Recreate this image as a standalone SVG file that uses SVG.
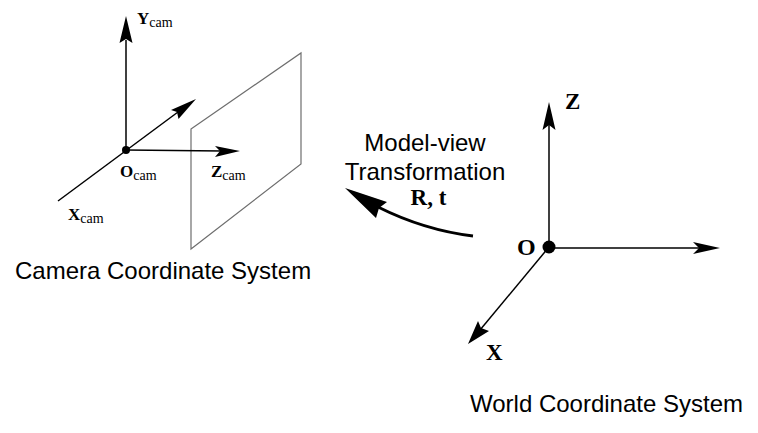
<svg xmlns="http://www.w3.org/2000/svg" width="758" height="433" viewBox="0 0 758 433">
<style>
.ax{fill:none;stroke:#000;stroke-width:1.5}
.hd{fill:#000;stroke:none}
.pl{fill:none;stroke:#6e6e6e;stroke-width:1.2}
.lb{font-family:"Liberation Sans",Arial,sans-serif;font-size:24px;fill:#000}
.m{font-family:"Liberation Serif","Times New Roman",serif;font-weight:bold;fill:#000}
.s{font-weight:normal}
</style>
<rect width="758" height="433" fill="#fff"/>
<g id="connectors">
<path class="pl" d="M191 129L301 53V164L191 249Z"/>
<path class="ax" d="M126 150V40"/>
<path class="hd" d="M126 16L132.500 43L126 39L119.500 43Z"/>
<path class="ax" d="M58 201L178 112"/>
<path class="hd" d="M196 99L178.500 119L177 112L171 110Z"/>
<path class="ax" d="M126 150L222 151"/>
<path class="hd" d="M240 151L215 157L220 151L215 146Z"/>
<path class="ax" d="M549 247V122"/>
<path class="hd" d="M549 102L555.500 130L549 125L542.500 130Z"/>
<path class="ax" d="M549 248H704"/>
<path class="hd" d="M720 248L693 254L699 248L693 242Z"/>
<path class="ax" d="M549 247L480 330"/>
<path class="hd" d="M468 344L478 321L481 328L489 331Z"/>
<path fill="none" stroke="#000" stroke-width="3" d="M473 236C440 232 408 222 378 207"/>
<path class="hd" d="M345 188L387 202L379 208L376 218Z"/>
</g>
<g id="camera-origin"><circle cx="126" cy="150" r="4"/>
<text class="m" x="120" y="177" font-size="17">O<tspan class="s" font-size="14" dy="3">cam</tspan></text></g>
<g id="y-cam"><text class="m" x="137" y="24" font-size="17">Y<tspan class="s" font-size="14" dy="3">cam</tspan></text></g>
<g id="x-cam"><text class="m" x="68" y="220" font-size="17">X<tspan class="s" font-size="14" dy="3">cam</tspan></text></g>
<g id="z-cam"><text class="m" x="211" y="177" font-size="17">Z<tspan class="s" font-size="14" dy="3">cam</tspan></text></g>
<g id="camera-label"><text class="lb" x="15" y="279">Camera Coordinate System</text></g>
<g id="transform-label">
<text class="lb" x="425" y="151" text-anchor="middle">Model-view</text>
<text class="lb" x="425" y="180" text-anchor="middle">Transformation</text>
<text class="m" x="428.500" y="205" font-size="23" text-anchor="middle">R, t</text></g>
<g id="world-origin"><circle cx="549" cy="247" r="6.500"/>
<text class="m" x="517" y="255" font-size="24">O</text></g>
<g id="z-world"><text class="m" x="565" y="109" font-size="23">Z</text></g>
<g id="x-world"><text class="m" x="486" y="360" font-size="23">X</text></g>
<g id="world-label"><text class="lb" x="470" y="412">World Coordinate System</text></g>
</svg>
